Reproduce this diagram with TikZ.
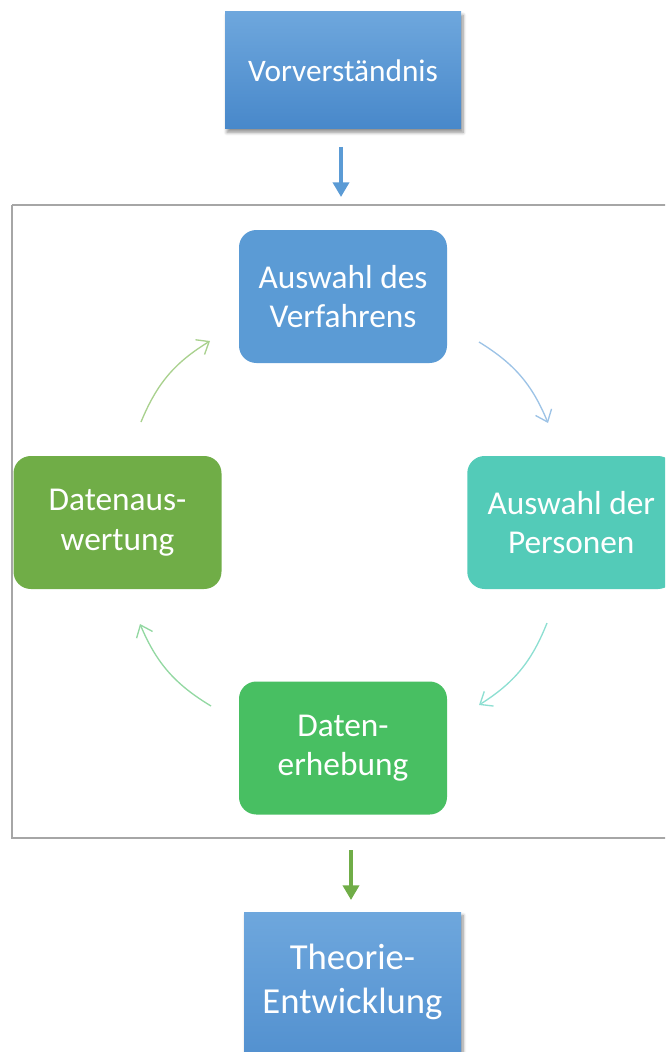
\documentclass[tikz,border=0pt]{standalone}
\usepackage{fontspec}
\setmainfont{Carlito}
\usetikzlibrary{arrows.meta,shadows,shadows.blur}
\definecolor{gradtop}{HTML}{6EA7DD}
\definecolor{gradbot}{HTML}{4888CA}
\definecolor{cblue}{HTML}{5B9BD5}
\definecolor{cteal}{HTML}{53CBB8}
\definecolor{cgreen}{HTML}{48BF62}
\definecolor{colive}{HTML}{70AD47}
\definecolor{framegray}{HTML}{A6A6A6}
\definecolor{aBlue}{HTML}{9DC3E6}
\definecolor{aTeal}{HTML}{8EDFD2}
\definecolor{aGreen}{HTML}{93D8A2}
\definecolor{aOlive}{HTML}{A9D18E}
\tikzset{
  gradbox/.style={rectangle, top color=gradtop, bottom color=gradbot, draw=none,
    text=white, align=center, inner sep=0pt,
    blur shadow={shadow xshift=1.5pt, shadow yshift=-2.5pt, shadow opacity=45, shadow blur steps=6, shadow blur radius=2.5pt}},
  cyclebox/.style={rectangle, rounded corners=13pt, draw=none, text=white, align=center,
    minimum width=156pt, minimum height=99.75pt, inner sep=0pt,
    font=\fontsize{25}{29.5}\selectfont},
  straight/.style={line width=2.7pt, -{Triangle[length=11pt,width=12pt]}},
  cyc/.style={line width=1pt, -{Straight Barb[length=8pt,width=13pt]}},
}
\begin{document}
\begin{tikzpicture}[x=0.75pt,y=-0.75pt]
\useasboundingbox (0,0) rectangle (665,1052);
\clip (0,0) rectangle (665,1052);
% frame
\draw[framegray, line width=1.5pt] (12,205) -- (680,205) (12,205) -- (12,838) -- (680,838);
% top box
\node[gradbox, minimum width=177pt, minimum height=87.75pt, font=\fontsize{23.5}{28}\selectfont]
  (vor) at (343,70.5) {Vorverständnis};
% bottom box
\node[gradbox, minimum width=162.75pt, minimum height=150pt, anchor=north] (theo) at (352.5,912) {};
\node[text=white, align=center, font=\fontsize{27.5}{33}\selectfont] (theotext) at (352.5,982) {Theorie-\\Entwicklung};
% cycle boxes
\node[cyclebox, fill=cblue] (verf) at (343,296.5) {Auswahl des\\Verfahrens};
\node[cyclebox, fill=cteal, anchor=west] (pers) at (467,522.5) {Auswahl der\\Personen};
\node[cyclebox, fill=cgreen] (erh) at (343,748) {Daten-\\erhebung};
\node[cyclebox, fill=colive] (ausw) at (117.5,522.5) {Datenaus-\\wertung};
% straight arrows
\coordinate (a1s) at (341,147);
\coordinate (a1e) at (341,197);
\draw[straight, color=cblue] (a1s) -- (a1e);
\coordinate (a2s) at (351,850);
\coordinate (a2e) at (351,900);
\draw[straight, color=colive] (a2s) -- (a2e);
% cycle arrows
\coordinate (c1s) at (479,342); \coordinate (c1e) at (548,423);
\coordinate (c2s) at (547,623); \coordinate (c2e) at (479,705);
\coordinate (c3s) at (211,706); \coordinate (c3e) at (140,624);
\coordinate (c4s) at (141,422); \coordinate (c4e) at (210,341);
\draw[cyc, color=aBlue] (c1s) to[bend left=18] (c1e);
\draw[cyc, color=aTeal] (c2s) to[bend left=18] (c2e);
\draw[cyc, color=aGreen] (c3s) to[bend left=18] (c3e);
\draw[cyc, color=aOlive] (c4s) to[bend left=18] (c4e);
\end{tikzpicture}
\end{document}
